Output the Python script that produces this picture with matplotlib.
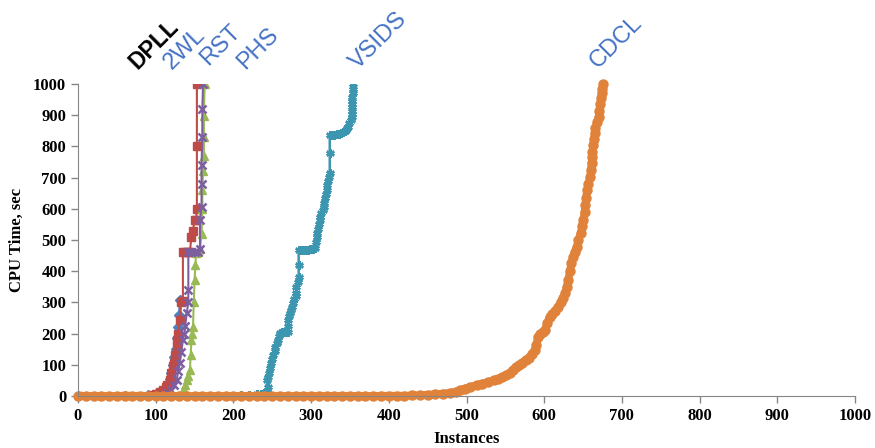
import matplotlib
matplotlib.use("Agg")
import matplotlib.pyplot as plt

# cactus plot data: instance index vs CPU time (sec)
dpll_n = [0, 60, 90, 100, 106, 112, 116, 118, 120, 122, 124, 126, 128, 129, 130, 131]
dpll_t = [0, 0, 2, 6, 14, 25, 40, 55, 75, 100, 125, 150, 185, 220, 260, 308]

wl2_n = [0, 60, 95, 101, 106, 110, 113, 115, 118, 120, 122, 123, 125, 127, 128, 129, 131, 133,
         135, 135, 138, 141, 144, 146, 148, 150, 152, 153, 153, 153]
wl2_t = [0, 0, 2, 6, 12, 20, 28, 35, 51, 75, 95, 106, 130, 158, 180, 200, 244, 302,
         303, 463, 463, 463, 463, 510, 530, 564, 564, 600, 800, 1000]

phs_n = [0, 100, 131, 134, 136, 138, 140, 142, 144, 145, 146, 147, 148, 149, 150, 151, 152,
         155, 157, 159, 160, 160, 161, 162, 162, 162, 163]
phs_t = [0, 0, 3, 10, 20, 35, 51, 65, 83, 130, 180, 200, 222, 300, 372, 420, 457,
         463, 470, 520, 600, 660, 720, 769, 830, 896, 1000]

rst_n = [0, 80, 111, 116, 120, 124, 127, 129, 131, 133, 135, 137, 138, 140, 142, 142, 142,
         146, 150, 154, 157, 157, 159, 159, 159, 160, 160, 161]
rst_t = [0, 0, 3, 10, 20, 35, 51, 80, 106, 140, 180, 200, 225, 266, 300, 340, 463,
         463, 463, 463, 470, 564, 607, 680, 740, 830, 920, 1000]

vsids_n = [0, 100, 200, 210, 220, 230, 236, 240, 243, 244,
           243, 244, 246, 247, 249, 250, 251, 253, 254, 256,
           257, 259, 260, 262, 265, 268, 270, 270, 270, 272,
           273, 274, 275, 277, 278, 280, 281, 281, 283, 284,
           284, 284, 287, 290, 293, 296, 299, 302, 305, 306,
           307, 308, 309, 310, 311, 312, 313, 315, 316, 317,
           318, 319, 320, 321, 322, 323, 324, 324, 324, 327,
           330, 333, 336, 339, 341, 343, 345, 346, 348, 349,
           351, 352, 352, 352, 352, 353, 353, 353, 354, 354,
           354]
vsids_t = [0, 0, 1, 2, 3, 6, 8, 10, 14, 30,
           51, 62, 75, 90, 106, 118, 130, 144, 158, 170,
           180, 192, 202, 205, 206, 206, 206, 225, 244, 255,
           265, 276, 286, 298, 310, 320, 330, 350, 366, 382,
           420, 468, 468, 468, 468, 468, 470, 472, 475, 492,
           510, 522, 535, 550, 564, 575, 585, 596, 607, 620,
           635, 648, 660, 675, 690, 702, 714, 780, 835, 837,
           838, 840, 841, 842, 845, 848, 852, 858, 863, 874,
           885, 895, 905, 915, 925, 935, 946, 958, 970, 985,
           1000]

cdcl_n = [0, 10, 20, 30, 40, 50, 60, 70, 80, 90, 100, 110, 120, 130, 140, 150, 160, 170, 180,
          190, 200, 210, 220, 230, 240, 250, 260, 270, 280, 290, 300, 310, 320, 330, 340, 350,
          360, 370, 380, 390, 400, 410, 420, 430, 440, 450, 460, 470, 479, 486, 492, 498, 505,
          513, 520, 528, 535, 540, 546, 551, 556, 560, 564, 568, 572, 576, 580, 584, 588, 590,
          592, 595, 598, 601, 604, 607, 610, 614, 618, 621, 624, 627, 629, 631, 633, 635, 637,
          639, 642, 644, 647, 649, 650, 652, 653, 654, 655, 657, 659, 660, 661, 661.5, 662, 663,
          664, 665, 666, 668, 670, 671, 672, 673, 674, 675, 676]
cdcl_t = [0, 0, 0, 0, 0, 0, 0, 0, 0, 0, 0, 0, 0, 0, 0, 0, 0, 0, 0,
          0, 0, 0, 0, 0, 0, 0, 0, 0, 0, 0, 0, 0, 0, 0, 0, 0,
          0, 0, 0, 1, 1, 1, 1, 2, 3, 4, 6, 8, 10, 14, 19, 24, 29,
          35, 40, 45, 51, 55, 60, 67, 75, 84, 93, 100, 107, 115, 122, 135, 147, 165,
          189, 198, 205, 212, 235, 253, 262, 272, 285, 300, 315, 330, 350, 372, 400, 426, 445,
          460, 478, 500, 522, 545, 564, 590, 612, 635, 660, 680, 702, 725, 747, 765, 782, 805,
          825, 843, 860, 878, 894, 915, 935, 955, 971, 985, 1000]

series_names = ["DPLL", "2WL", "RST", "PHS", "VSIDS", "CDCL"]
label_x = [77, 121, 167, 215, 360, 669]
label_y = [1045, 1045, 1058, 1045, 1045, 1048]
x_ticks = list(range(0, 1001, 100))
y_ticks = list(range(0, 1001, 100))

fig = plt.figure(figsize=(8.75, 4.48), dpi=100)
ax = fig.add_axes([78 / 875, 1 - 396 / 448, (855 - 78) / 875, (396 - 84) / 448])

ax.plot(dpll_n, dpll_t, color="#4F81BD", marker="D", ms=5, lw=1.5)
ax.plot(wl2_n, wl2_t, color="#BE4B48", marker="s", ms=5.5, lw=1.5)
ax.plot(phs_n, phs_t, color="#98B954", marker="^", ms=5.5, lw=1.5)
ax.plot(rst_n, rst_t, color="#7D5FA0", marker="x", ms=5.5, mew=1.8, lw=1.5)
ax.plot(vsids_n, vsids_t, color="#3D96B0", marker=(6, 2, 0), ms=6, mew=1.8, lw=1.8)
ax.plot(cdcl_n, cdcl_t, color="#E0823A", marker="o", ms=6.5, lw=5.5,
        solid_capstyle="butt", clip_on=False)

ax.set_xlim(0, 1000)
ax.set_ylim(0, 1000)
ax.set_xticks(x_ticks)
ax.set_yticks(y_ticks)

for s in ["top", "right"]:
    ax.spines[s].set_visible(False)
for s in ["left", "bottom"]:
    ax.spines[s].set_color("#868686")
ax.tick_params(colors="#868686", length=5, width=1, labelcolor="black")

for lab in ax.get_xticklabels() + ax.get_yticklabels():
    lab.set_fontfamily("Liberation Serif")
    lab.set_fontweight("bold")
    lab.set_fontsize(12)

ax.set_xlabel("Instances", fontfamily="Liberation Serif", fontweight="bold", fontsize=12, labelpad=5)
ax.set_ylabel("CPU Time, sec", fontfamily="Liberation Serif", fontweight="bold", fontsize=12, labelpad=6)

# rotated series names above the curves
for name, lx, ly in zip(series_names, label_x, label_y):
    if name == "DPLL":
        c, w, fs = "black", "bold", 16.5
    else:
        c, w, fs = "#4472C4", "normal", 17
    ax.text(lx, ly, name, rotation=45, rotation_mode="anchor", ha="left", va="baseline",
            fontsize=fs, color=c, fontweight=w, fontfamily="Liberation Sans", clip_on=False)

fig.savefig("out.png", dpi=100)
